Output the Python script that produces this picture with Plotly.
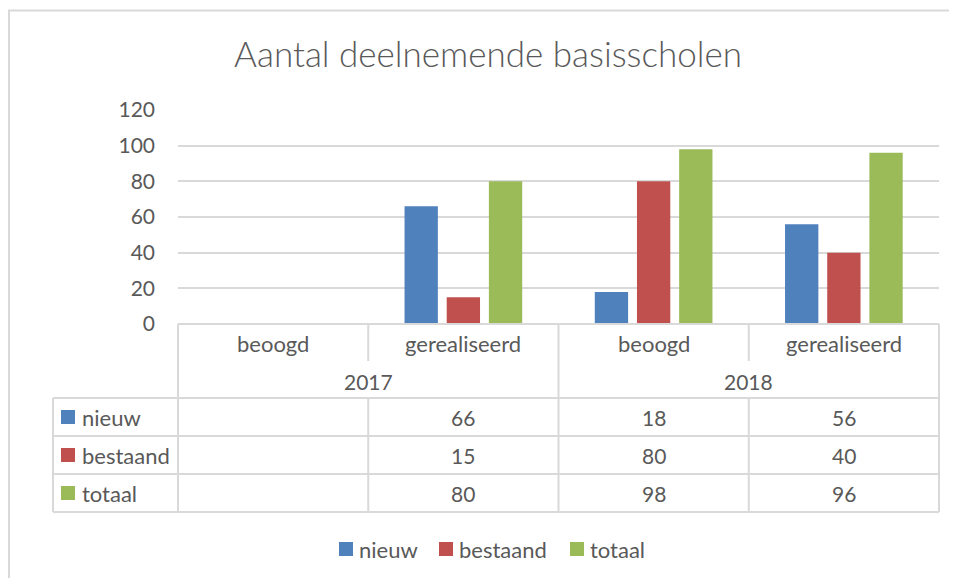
import plotly.graph_objects as go

# page gets an 8px body margin, so the figure is made to fit inside it
PAGE_OFF = 8
W, H = 957 - 2 * PAGE_OFF, 586 - 2 * PAGE_OFF

years = ["2017", "2018"]
subcats = ["beoogd", "gerealiseerd", "beoogd", "gerealiseerd"]
series_names = ["nieuw", "bestaand", "totaal"]
nieuw = [None, 66, 18, 56]
bestaand = [None, 15, 80, 40]
totaal = [None, 80, 98, 96]
colors = ["#4F81BD", "#C0504D", "#9BBB59"]
y_ticks = [0, 20, 40, 60, 80, 100, 120]

FONT = "Lato"
TXT = "#595959"
GRID = "#D9D9D9"


def px(x):
    return (x - PAGE_OFF) / W


def py(y):
    return 1 - (y - PAGE_OFF) / H


cats = [f"{years[i // 2]} {s}" for i, s in enumerate(subcats)]
values = [nieuw, bestaand, totaal]

fig = go.Figure()
for name, vals, col in zip(series_names, values, colors):
    fig.add_trace(go.Bar(x=cats, y=vals, name=name, marker_color=col,
                         marker_line_width=0, showlegend=False))

# plot area in screen pixels
X0, X1 = 178, 939
Y_ZERO, Y_TOP = 324, 110
ROWS = [398, 436, 474, 512]
LEFT = 53
col_edges = [X0 + i * (X1 - X0) / 4 for i in range(5)]

shapes = []
annotations = []


def line(x0, y0, x1, y1):
    shapes.append(dict(type="line", xref="paper", yref="paper",
                       x0=px(x0), y0=py(y0), x1=px(x1), y1=py(y1),
                       line=dict(color=GRID, width=2)))


def box(x0, y0, x1, y1, col):
    shapes.append(dict(type="rect", xref="paper", yref="paper",
                       x0=px(x0), x1=px(x1), y0=py(y1), y1=py(y0),
                       fillcolor=col, line=dict(width=0)))


def text(x, y, s, anchor="center", size=22):
    annotations.append(dict(xref="paper", yref="paper", x=px(x), y=py(y),
                            text=s, showarrow=False, xanchor=anchor,
                            yanchor="middle",
                            font=dict(family=FONT, size=size, color=TXT)))


# outer chart border (right and bottom run off the picture)
shapes.append(dict(type="rect", xref="paper", yref="paper",
                   x0=px(9), y0=py(620), x1=px(990), y1=py(10.5),
                   line=dict(color=GRID, width=2)))

# data table grid
for i, x in enumerate(col_edges):
    if i % 2 == 0:
        line(x, Y_ZERO, x, ROWS[-1])
    else:
        line(x, Y_ZERO, x, 361)
        line(x, ROWS[0], x, ROWS[-1])
line(LEFT, ROWS[0], LEFT, ROWS[-1])
line(X0, Y_ZERO, X1, Y_ZERO)
for y in ROWS:
    line(LEFT, y, X1, y)

for i, s in enumerate(subcats):
    text((col_edges[i] + col_edges[i + 1]) / 2, 344, s)
for j, yr in enumerate(years):
    text((col_edges[2 * j] + col_edges[2 * j + 2]) / 2, 381, yr, size=21)

for r, (name, vals, col) in enumerate(zip(series_names, values, colors)):
    yc = (ROWS[r] + ROWS[r + 1]) / 2
    box(61, yc - 7, 75, yc + 7, col)
    text(80, yc, name, anchor="left")
    for i, v in enumerate(vals):
        if v is not None:
            text((col_edges[i] + col_edges[i + 1]) / 2, yc, str(v), size=21)

# legend below the table
leg_x = [339, 439, 570]
for lx, name, col in zip(leg_x, series_names, colors):
    box(lx, 542, lx + 14, 556, col)
    text(lx + 18, 549, name, anchor="left")

fig.update_layout(
    width=W, height=H, autosize=False,
    margin=dict(l=0, r=0, t=0, b=0, pad=0),
    paper_bgcolor="white", plot_bgcolor="white",
    font=dict(family=FONT, color=TXT),
    title=dict(text="Aantal deelnemende basisscholen",
               x=px(488), xanchor="center", y=py(55), yanchor="middle",
               font=dict(family=FONT, size=35, color=TXT, weight=300)),
    barmode="group", bargap=0.335, bargroupgap=0.21,
    xaxis=dict(domain=[px(X0), px(X1)], range=[-0.5, 3.5],
               showticklabels=False, showgrid=False, zeroline=False,
               showline=False, ticks="", automargin=False),
    yaxis=dict(domain=[py(Y_ZERO), py(Y_TOP)], range=[0, 120],
               tickvals=y_ticks, showgrid=True, gridcolor=GRID, gridwidth=2,
               zeroline=False, showline=False, ticks="", automargin=False,
               ticklabelstandoff=22,
               tickfont=dict(family=FONT, size=21, color=TXT)),
    showlegend=False,
    shapes=shapes,
    annotations=annotations,
)

fig.write_html("out.html")
